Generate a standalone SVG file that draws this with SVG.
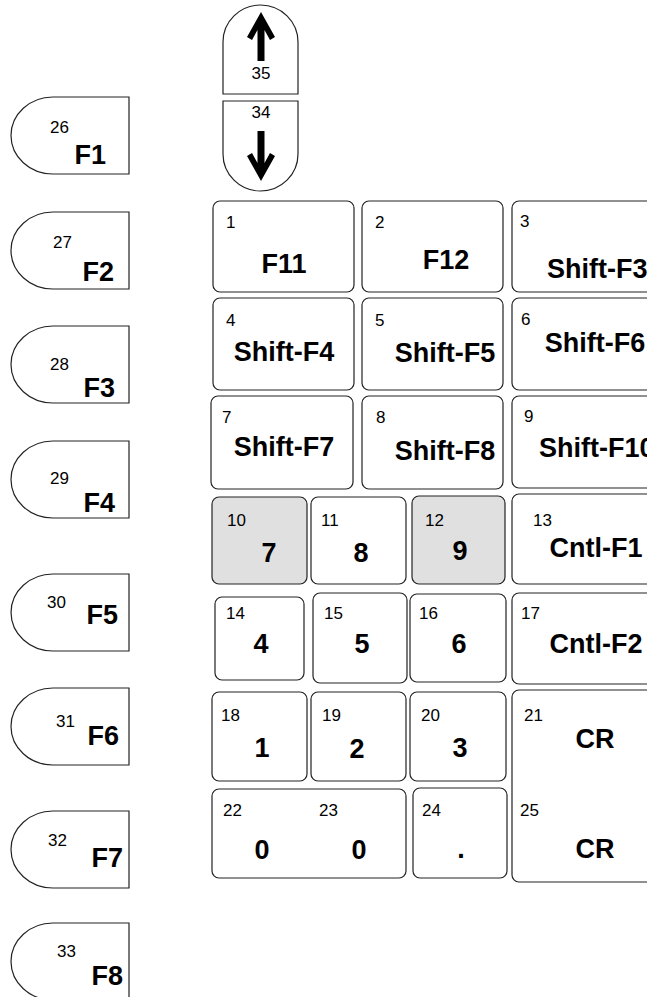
<svg xmlns="http://www.w3.org/2000/svg" width="647" height="997" viewBox="0 0 647 997">
<style>
.k{fill:#fff;stroke:#222;stroke-width:1.2}
.g{fill:#e0e0e0}
.n{font-family:"Liberation Sans",Arial,sans-serif;font-size:17px;fill:#000}
.l{font-family:"Liberation Sans",Arial,sans-serif;font-size:27px;font-weight:bold;fill:#000}
.c{text-anchor:middle}
.e{text-anchor:end}
.ar{fill:#000}
</style>
<rect width="647" height="997" fill="#fff"/>
<g id="connectors"/>
<g id="f1"><path class="k" d="M129 97H53A42 38.5 0 0 0 53 174H129Z"/><text class="n" x="50" y="133">26</text><text class="l e" x="106" y="164">F1</text></g>
<g id="f2"><path class="k" d="M129 212H53A42 38.5 0 0 0 53 289H129Z"/><text class="n" x="53" y="248">27</text><text class="l e" x="114" y="281">F2</text></g>
<g id="f3"><path class="k" d="M129 326H53A42 38.5 0 0 0 53 403H129Z"/><text class="n" x="50" y="370">28</text><text class="l e" x="115" y="397">F3</text></g>
<g id="f4"><path class="k" d="M129 441H53A42 38.5 0 0 0 53 518H129Z"/><text class="n" x="50" y="484">29</text><text class="l e" x="115" y="512">F4</text></g>
<g id="f5"><path class="k" d="M129 574H53A42 38.5 0 0 0 53 651H129Z"/><text class="n" x="47" y="608">30</text><text class="l e" x="118" y="624">F5</text></g>
<g id="f6"><path class="k" d="M129 688H53A42 38.5 0 0 0 53 765H129Z"/><text class="n" x="56" y="727">31</text><text class="l e" x="119" y="745">F6</text></g>
<g id="f7"><path class="k" d="M129 811H53A42 38.5 0 0 0 53 888H129Z"/><text class="n" x="48" y="846">32</text><text class="l e" x="123" y="867">F7</text></g>
<g id="f8"><path class="k" d="M129 923H53A42 38.5 0 0 0 53 1000H129Z"/><text class="n" x="57" y="957">33</text><text class="l e" x="123" y="985">F8</text></g>
<g id="k35"><path class="k" d="M223 94V42A37.5 37 0 0 1 298 42V94Z"/><polygon class="ar" points="261,12 275,37 270,40 264.5,30 264.5,61 257.5,61 257.5,30 252,40 247,37"/><text class="n c" x="261" y="79">35</text></g>
<g id="k34"><path class="k" d="M223 101V154A37.5 37 0 0 0 298 154V101Z"/><polygon class="ar" points="261,181 275,156 270,153 264.5,163 264.5,131 257.5,131 257.5,163 252,153 247,156"/><text class="n c" x="261" y="118">34</text></g>
<g id="k1"><rect class="k" x="213" y="201" width="141" height="91" rx="7"/><text class="n" x="226" y="228">1</text><text class="l c" x="284" y="273">F11</text></g>
<g id="k2"><rect class="k" x="362" y="201" width="141" height="91" rx="7"/><text class="n" x="375" y="228">2</text><text class="l c" x="446" y="269">F12</text></g>
<g id="k3"><rect class="k" x="512" y="201" width="145" height="91" rx="7"/><text class="n" x="520" y="227">3</text><text class="l" x="547" y="278">Shift-F3</text></g>
<g id="k4"><rect class="k" x="213" y="298" width="141" height="92" rx="7"/><text class="n" x="226" y="326">4</text><text class="l c" x="284" y="361">Shift-F4</text></g>
<g id="k5"><rect class="k" x="362" y="298" width="141" height="92" rx="7"/><text class="n" x="375" y="326">5</text><text class="l c" x="445" y="362">Shift-F5</text></g>
<g id="k6"><rect class="k" x="512" y="298" width="145" height="92" rx="7"/><text class="n" x="521" y="325">6</text><text class="l c" x="595" y="352">Shift-F6</text></g>
<g id="k7"><rect class="k" x="211" y="396" width="142" height="93" rx="7"/><text class="n" x="222" y="423">7</text><text class="l c" x="284" y="456">Shift-F7</text></g>
<g id="k8"><rect class="k" x="362" y="396" width="141" height="93" rx="7"/><text class="n" x="376" y="423">8</text><text class="l c" x="445" y="460">Shift-F8</text></g>
<g id="k9"><rect class="k" x="512" y="396" width="145" height="92" rx="7"/><text class="n" x="524" y="422">9</text><text class="l" x="539" y="457">Shift-F10</text></g>
<g id="k10"><rect class="k g" x="212" y="497" width="95" height="87" rx="7"/><text class="n" x="227" y="526">10</text><text class="l c" x="269" y="562">7</text></g>
<g id="k11"><rect class="k" x="311" y="497" width="95" height="87" rx="7"/><text class="n" x="321" y="526">11</text><text class="l c" x="361" y="562">8</text></g>
<g id="k12"><rect class="k g" x="412" y="496" width="93" height="88" rx="7"/><text class="n" x="425" y="526">12</text><text class="l c" x="460" y="560">9</text></g>
<g id="k13"><rect class="k" x="512" y="494" width="145" height="90" rx="7"/><text class="n" x="533" y="526">13</text><text class="l c" x="596" y="557">Cntl-F1</text></g>
<g id="k14"><rect class="k" x="215" y="597" width="89" height="83" rx="7"/><text class="n" x="226" y="619">14</text><text class="l c" x="261" y="653">4</text></g>
<g id="k15"><rect class="k" x="313" y="593" width="94" height="90" rx="7"/><text class="n" x="324" y="619">15</text><text class="l c" x="362" y="653">5</text></g>
<g id="k16"><rect class="k" x="410" y="594" width="96" height="88" rx="7"/><text class="n" x="419" y="619">16</text><text class="l c" x="459" y="653">6</text></g>
<g id="k17"><rect class="k" x="512" y="593" width="145" height="91" rx="7"/><text class="n" x="521" y="619">17</text><text class="l c" x="596" y="653">Cntl-F2</text></g>
<g id="k18"><rect class="k" x="212" y="692" width="95" height="89" rx="7"/><text class="n" x="221" y="721">18</text><text class="l c" x="262" y="757">1</text></g>
<g id="k19"><rect class="k" x="311" y="692" width="95" height="89" rx="7"/><text class="n" x="322" y="721">19</text><text class="l c" x="357" y="758">2</text></g>
<g id="k20"><rect class="k" x="410" y="692" width="96" height="89" rx="7"/><text class="n" x="421" y="721">20</text><text class="l c" x="460" y="757">3</text></g>
<g id="k21-25"><rect class="k" x="512" y="690" width="145" height="192" rx="7"/><text class="n" x="524" y="721">21</text><text class="l c" x="595" y="748">CR</text><text class="n" x="520" y="816">25</text><text class="l c" x="595" y="858">CR</text></g>
<g id="k22-23"><rect class="k" x="212" y="789" width="194" height="89" rx="7"/><text class="n" x="223" y="816">22</text><text class="n" x="319" y="816">23</text><text class="l c" x="262" y="859">0</text><text class="l c" x="359" y="859">0</text></g>
<g id="k24"><rect class="k" x="413" y="788" width="94" height="90" rx="7"/><text class="n" x="422" y="816">24</text><text class="l c" x="461" y="858">.</text></g>
</svg>
